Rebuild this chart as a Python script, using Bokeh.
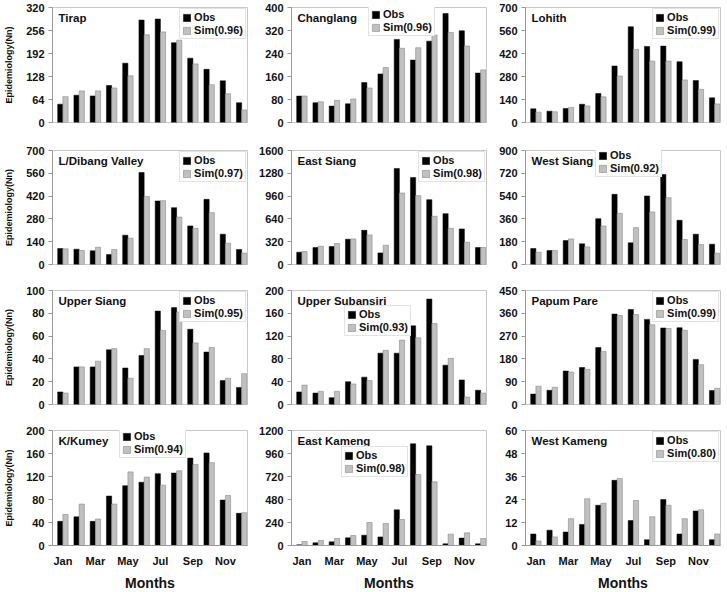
from bokeh.plotting import figure
from bokeh.layouts import column, row
from bokeh.models import Range1d, FixedTicker, Legend, LegendItem, Label, ColumnDataSource
from bokeh.transform import dodge
from bokeh.embed import file_html
from bokeh.resources import INLINE

months = ["Jan", "Feb", "Mar", "Apr", "May", "Jun", "Jul", "Aug", "Sep", "Oct", "Nov", "Dec"]
month_idx = list(range(1, 13))
shown_months = [1, 3, 5, 7, 9, 11]

districts = ["Tirap", "Changlang", "Lohith",
             "L/Dibang Valley", "East Siang", "West Siang",
             "Upper Siang", "Upper Subansiri", "Papum Pare",
             "K/Kumey", "East Kameng", "West Kameng"]
r_values = ["0.96", "0.96", "0.99", "0.97", "0.98", "0.92",
            "0.95", "0.93", "0.99", "0.94", "0.98", "0.80"]
y_max = [320, 400, 700, 700, 1600, 900, 100, 200, 450, 200, 1200, 60]

tirap_obs = [51, 76, 74, 103, 165, 285, 288, 222, 179, 148, 116, 55]
tirap_sim = [72, 88, 88, 96, 130, 244, 252, 229, 163, 105, 80, 35]
changlang_obs = [92, 69, 57, 65, 139, 169, 289, 217, 283, 379, 319, 172]
changlang_sim = [92, 72, 77, 82, 120, 191, 258, 260, 304, 313, 266, 183]
lohith_obs = [83, 69, 85, 111, 176, 344, 583, 463, 465, 370, 255, 150]
lohith_sim = [63, 65, 91, 101, 156, 283, 445, 374, 374, 259, 202, 113]
dibang_obs = [98, 94, 84, 61, 180, 565, 390, 349, 237, 400, 186, 92]
dibang_sim = [96, 86, 106, 92, 161, 418, 392, 291, 222, 318, 131, 70]
east_siang_obs = [173, 238, 252, 355, 480, 163, 1348, 1222, 910, 714, 499, 238]
east_siang_sim = [182, 256, 294, 359, 415, 271, 1003, 966, 676, 508, 313, 238]
west_siang_obs = [126, 110, 189, 163, 362, 554, 171, 541, 711, 349, 239, 160]
west_siang_sim = [97, 110, 202, 139, 304, 404, 291, 415, 527, 197, 157, 89]
upper_siang_obs = [11, 33, 33, 48, 32, 43, 82, 85, 66, 46, 21, 15]
upper_siang_sim = [10, 33, 38, 49, 23, 49, 65, 81, 54, 50, 23, 27]
subansiri_obs = [22, 20, 12, 40, 48, 90, 90, 138, 185, 69, 43, 25]
subansiri_sim = [34, 23, 23, 36, 42, 95, 113, 117, 142, 81, 13, 20]
papum_obs = [41, 56, 132, 146, 225, 357, 375, 336, 302, 303, 178, 55]
papum_sim = [72, 68, 128, 139, 209, 351, 355, 315, 300, 293, 157, 64]
kumey_obs = [42, 50, 42, 86, 104, 110, 125, 126, 152, 161, 79, 56]
kumey_sim = [54, 72, 46, 72, 128, 119, 105, 130, 141, 144, 87, 57]
east_kameng_obs = [7, 28, 38, 80, 108, 90, 372, 1061, 1040, 17, 77, 17]
east_kameng_sim = [42, 52, 73, 104, 240, 230, 271, 741, 664, 118, 132, 73]
west_kameng_obs = [6, 8, 7, 11, 21, 34, 13, 3, 24, 6, 18, 3]
west_kameng_sim = [2.3, 4.5, 14, 24.4, 22, 35, 23.5, 15, 21, 14, 18.6, 6]

obs_series = [tirap_obs, changlang_obs, lohith_obs, dibang_obs, east_siang_obs, west_siang_obs,
              upper_siang_obs, subansiri_obs, papum_obs, kumey_obs, east_kameng_obs, west_kameng_obs]
sim_series = [tirap_sim, changlang_sim, lohith_sim, dibang_sim, east_siang_sim, west_siang_sim,
              upper_siang_sim, subansiri_sim, papum_sim, kumey_sim, east_kameng_sim, west_kameng_sim]

FONT = "Liberation Sans"
FW = 195
ROW_FH = [115, 114, 114, 115]
ROW_TOP = [7, 6, 6, 6]
ROW_BOTTOM = [22, 20, 20, 43]
COL_LEFT = [52, 42, 37]
COL_RIGHT = [2, 2, 4]
LH = 26  # approx legend height
# legend placement: None -> top right; else (x from frame left, gap of legend top below frame top)
legend_off = [None, (77, 3), None,
              None, None, (70, 1),
              None, (53, 20), None,
              (67, 2), (50, 21), None]


def make_panel(i):
    r, c = divmod(i, 3)
    last_row = (r == 3)
    fh = ROW_FH[r]
    p = figure(frame_width=FW, frame_height=fh,
               x_range=Range1d(0.36, 12.36), y_range=Range1d(0, y_max[i]),
               output_backend="svg", toolbar_location=None,
               min_border_left=COL_LEFT[c], min_border_right=COL_RIGHT[c],
               min_border_top=ROW_TOP[r], min_border_bottom=ROW_BOTTOM[r],
               background_fill_color="white", border_fill_color="white")
    p.outline_line_color = "#c8c8c8"
    p.xgrid.visible = False
    p.ygrid.visible = False

    src = ColumnDataSource(dict(x=month_idx, obs=obs_series[i], sim=sim_series[i]))
    r1 = p.vbar(x=dodge("x", -0.16, range=p.x_range), top="obs", width=0.32, bottom=0,
                source=src, fill_color="black", line_color="black", line_width=0.5)
    r2 = p.vbar(x=dodge("x", 0.16, range=p.x_range), top="sim", width=0.32, bottom=0,
                source=src, fill_color="#c0c0c0", line_color="#8a8a8a", line_width=0.6)

    ya = p.yaxis[0]
    ya.ticker = FixedTicker(ticks=[y_max[i] * k / 5 for k in range(6)])
    ya.major_label_text_font = FONT
    ya.major_label_text_font_style = "bold"
    ya.major_label_text_font_size = "11px"
    ya.major_label_text_color = "#111111"
    ya.axis_line_color = "#9a9a9a"
    ya.major_tick_line_color = "#9a9a9a"
    ya.major_tick_out = 4
    ya.major_tick_in = 0
    ya.minor_tick_line_color = None
    ya.major_label_standoff = 4
    if c == 0:
        ya.axis_label = "Epidemiology(Nn)"
        ya.axis_label_text_font = FONT
        ya.axis_label_text_font_style = "bold"
        ya.axis_label_text_font_size = "9px"
        ya.axis_label_text_color = "#111111"
        ya.axis_label_standoff = 9

    xa = p.xaxis[0]
    if last_row:
        xa.ticker = FixedTicker(ticks=shown_months)
        xa.major_label_overrides = {m: months[m - 1] for m in shown_months}
        xa.major_label_text_font = FONT
        xa.major_label_text_font_style = "bold"
        xa.major_label_text_font_size = "11px"
        xa.major_label_text_color = "#111111"
        xa.axis_line_color = "#9a9a9a"
        xa.major_tick_line_color = None
        xa.minor_tick_line_color = None
        xa.major_tick_out = 0
        xa.major_label_standoff = 9
        xa.axis_label = "Months"
        xa.axis_label_text_font = FONT
        xa.axis_label_text_font_style = "bold"
        xa.axis_label_text_font_size = "14px"
        xa.axis_label_text_color = "#111111"
        xa.axis_label_standoff = 5
    else:
        xa.visible = False

    p.add_layout(Label(x=0.36, y=y_max[i], x_offset=6, y_offset=-10, text=districts[i],
                       text_font=FONT, text_font_style="bold", text_font_size="11.5px",
                       text_baseline="middle", text_color="#111111"))

    off = legend_off[i]
    loc = "top_right" if off is None else (off[0], fh - off[1] - LH)
    legend = Legend(items=[LegendItem(label="Obs", renderers=[r1]),
                           LegendItem(label="Sim(" + r_values[i] + ")", renderers=[r2])],
                    location=loc)
    legend.margin = 1 if off is None else 0
    legend.padding = 2
    legend.spacing = 1
    legend.glyph_width = 9
    legend.glyph_height = 9
    legend.label_height = 11
    legend.label_standoff = 3
    legend.label_text_font = FONT
    legend.label_text_font_style = "bold"
    legend.label_text_font_size = "11px"
    legend.label_text_color = "#111111"
    legend.border_line_color = "#c8c8c8"
    legend.background_fill_color = "white"
    legend.background_fill_alpha = 1
    p.add_layout(legend)
    return p


panels = [make_panel(i) for i in range(12)]
layout = column(*[row(*panels[k * 3:(k + 1) * 3], spacing=0) for k in range(4)], spacing=0)

open("out.html", "w").write(file_html(layout, INLINE))
